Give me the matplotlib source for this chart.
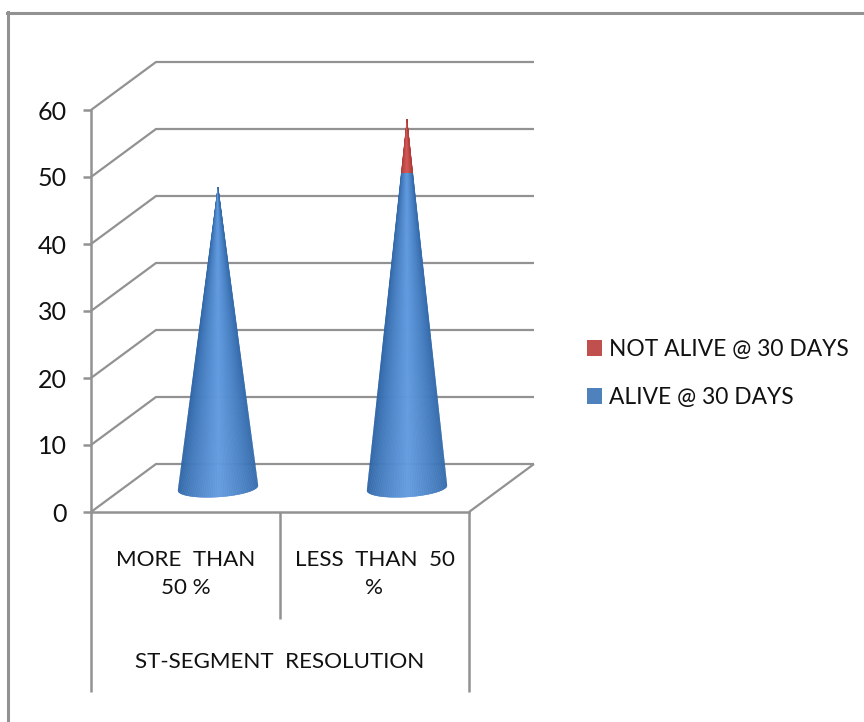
import numpy as np
import matplotlib
matplotlib.use("Agg")
import matplotlib.pyplot as plt
from matplotlib.collections import PolyCollection
from matplotlib.colors import to_rgb
from matplotlib.lines import Line2D
from matplotlib.patches import Patch, Rectangle

# Survival counts by degree of ST-segment resolution
categories = ["MORE  THAN\n50 %", "LESS  THAN  50\n%"]
group_label = "ST-SEGMENT  RESOLUTION"
alive = [45, 47]
not_alive = [0, 8]
y_ticks = [0, 10, 20, 30, 40, 50, 60]
series_names = ["ALIVE @ 30 DAYS", "NOT ALIVE @ 30 DAYS"]

GREY = "#929292"
BLUE_EDGE, BLUE_MID, BLUE_KEY = "#2f65a6", "#629ce0", "#4f81bd"
RED_EDGE, RED_MID, RED_KEY = "#a93a38", "#d65a57", "#c0504d"
INK = "#111111"

W, H = 864, 722
plt.rcParams["font.family"] = ["Lato", "DejaVu Sans"]

fig = plt.figure(figsize=(W / 100, H / 100), dpi=100)
ax = fig.add_axes([91 / W, 1 - 512 / H, 378 / W, 402 / H])
ax.set_xlim(0, len(categories))
ax.set_ylim(0, 60)
ax.patch.set_alpha(0)

# Depth of the 3D box, in data units
depth_x = 65 / 189
depth_y = 48 / 6.7

line_kw = dict(color=GREY, lw=1.6, clip_on=False, solid_capstyle="butt", zorder=1)

# Side wall and back wall gridlines
for v in y_ticks:
    ax.plot([0, depth_x, 2 + depth_x],
            [v, v + depth_y, v + depth_y], **line_kw)
# Floor outline
ax.plot([2, 2 + depth_x], [0, depth_y], **line_kw)

# Axis frame
for name in ("top", "right"):
    ax.spines[name].set_visible(False)
for name in ("left", "bottom"):
    ax.spines[name].set_color(GREY)
    ax.spines[name].set_linewidth(1.8)
    ax.spines[name].set_zorder(2)

ax.set_yticks(y_ticks)
ax.tick_params(axis="y", length=6, width=1.8, color=GREY, labelsize=18, pad=11.5,
               labelcolor=INK)
ax.set_xticks(np.arange(len(categories)) + 0.5, categories)
ax.tick_params(axis="x", length=0, labelsize=16.1, pad=27.5, labelcolor=INK)
for lab in ax.get_xticklabels():
    lab.set_linespacing(1.5)

# Two-level category separators below the floor
sep_kw = dict(color=GREY, lw=1.8, clip_on=False, solid_capstyle="butt")
ax.plot([0, 0], [0, -26.9], **sep_kw)
ax.plot([1, 1], [0, -16], **sep_kw)
ax.plot([2, 2], [0, -26.9], **sep_kw)
ax.text(1, -22.4, group_label, ha="center", va="center", fontsize=16.1, color=INK)


def shade(u, edge, mid):
    """Horizontal cylinder-style shading for u in [-1, 1]."""
    e, m = np.array(to_rgb(edge)), np.array(to_rgb(mid))
    k = (1 - np.clip(np.abs(u), 0, 1)) ** 0.7
    return e + (m - e) * k


def cone(cx, base, top, clip_low, clip_high, edge, mid):
    """Draw a cone as a fan of facets, showing only the clip_low..clip_high band."""
    a, b, tilt = 40 / 189, 9 / 6.7, 2.5 / 6.7
    u = np.linspace(-1, 1, 121)
    phi = np.arccos(u)
    xs = cx + a * u
    ys = base - b * np.sin(phi) + tilt * u
    polys, cols = [], []
    for i in range(len(u) - 1):
        polys.append([(cx, top), (xs[i], ys[i]), (xs[i + 1], ys[i + 1])])
        cols.append(shade((u[i] + u[i + 1]) / 2 - 0.03, edge, mid))
    pc = PolyCollection(polys, facecolors=cols, edgecolors=cols, linewidths=0.3,
                        zorder=3, clip_on=True)
    ax.add_collection(pc)
    clip = Rectangle((cx - 1, clip_low), 2, clip_high - clip_low,
                     transform=ax.transData)
    pc.set_clip_path(clip)


# Cones stand half way into the box depth; each is one cone cut at the stack boundary
for i, (v_a, v_n) in enumerate(zip(alive, not_alive)):
    cx = i + 0.5 + depth_x / 2
    base = depth_y / 2
    total = v_a + v_n
    cone(cx, base, base + total, -10, base + v_a, BLUE_EDGE, BLUE_MID)
    if v_n:
        cone(cx, base, base + total, base + v_a, 80, RED_EDGE, RED_MID)

# Legend, newest series first
handles = [Patch(facecolor=RED_KEY, label=series_names[1]),
           Patch(facecolor=BLUE_KEY, label=series_names[0])]
fig.legend(handles=handles, loc="center left",
           bbox_to_anchor=(580 / W, 1 - 373.5 / H), frameon=False, fontsize=16.4,
           handlelength=0.68, handleheight=0.68, handletextpad=0.3,
           labelspacing=1.2, labelcolor=INK, borderpad=0.3, borderaxespad=0)

# Outer border: top and left edges only
fig.add_artist(Line2D([8 / W, 8 / W], [0, 1 - 12 / H], color=GREY, lw=2.2))
fig.add_artist(Line2D([7 / W, 1], [1 - 12.5 / H, 1 - 12.5 / H], color=GREY, lw=2.2))

fig.savefig("out.png", dpi=100)
